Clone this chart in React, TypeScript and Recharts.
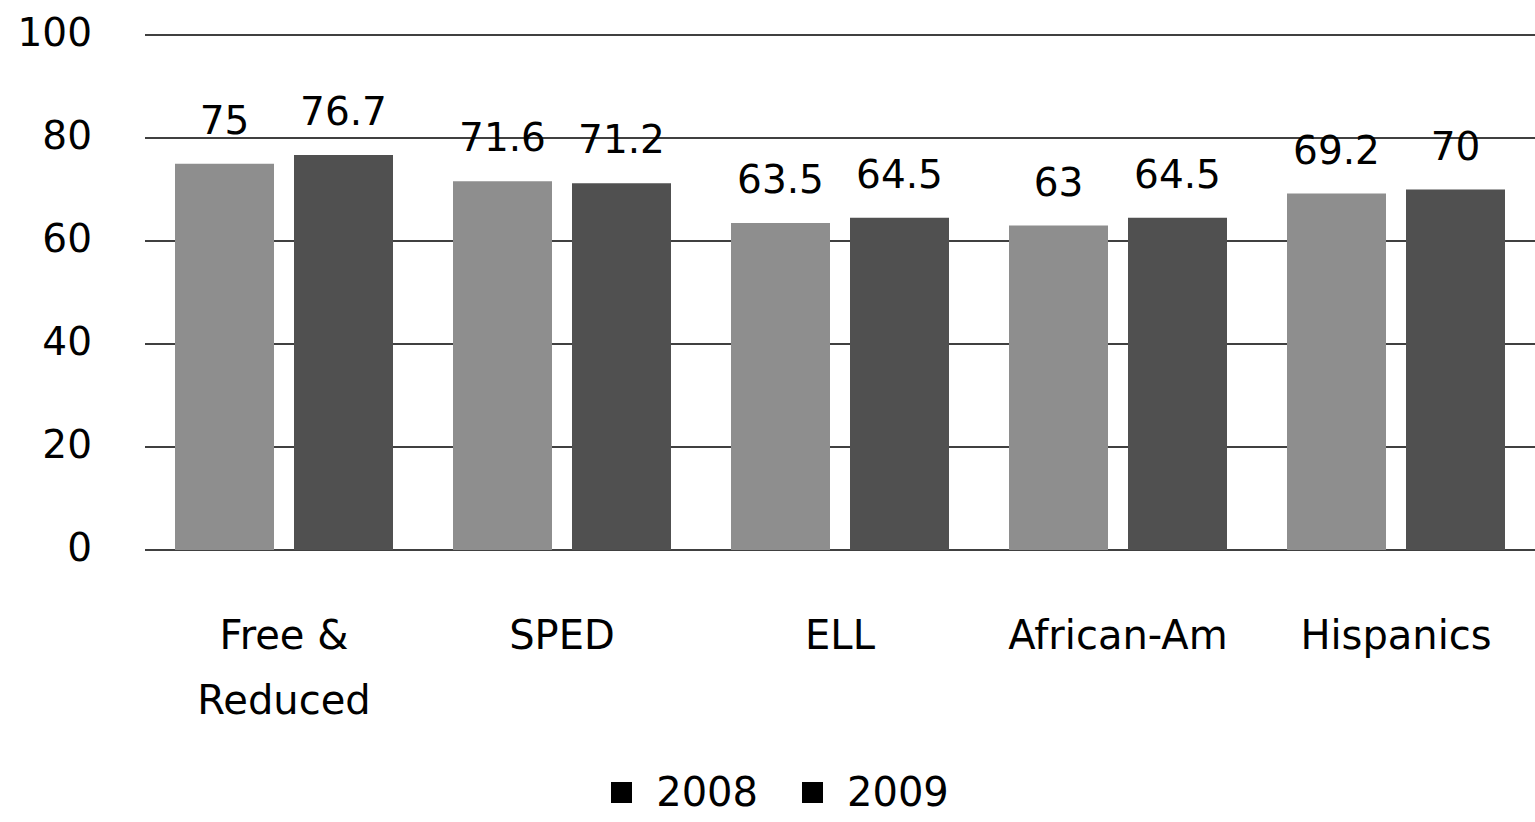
import { Bar, BarChart, CartesianGrid, LabelList, Legend, XAxis, YAxis } from "recharts";

const categories = ["Free &\nReduced", "SPED", "ELL", "African-Am", "Hispanics"];
const values2008 = [75, 71.6, 63.5, 63, 69.2];
const values2009 = [76.7, 71.2, 64.5, 64.5, 70];
const yTicks = [0, 20, 40, 60, 80, 100];
const seriesNames = ["2008", "2009"];

const FONT = "'DejaVu Sans', Verdana, sans-serif";

const data = categories.map((name, i) => ({
  name,
  y2008: values2008[i],
  y2009: values2009[i],
}));

function CategoryTick(props: any) {
  const { x, y, payload } = props;
  const lines = String(payload.value).split("\n");
  return (
    <g>
      {lines.map((line, i) => (
        <text
          key={i}
          x={x}
          y={y + 99 + i * 65}
          textAnchor="middle"
          fontSize={40}
          fontFamily={FONT}
          fill="#000"
        >
          {line}
        </text>
      ))}
    </g>
  );
}

function LegendBox() {
  return (
    <div
      style={{
        display: "flex",
        justifyContent: "center",
        alignItems: "center",
        gap: 44,
        fontFamily: FONT,
        fontSize: 40,
        color: "#000",
        height: 60,
        paddingLeft: 25,
      }}
    >
      {seriesNames.map((s) => (
        <span key={s} style={{ display: "flex", alignItems: "center" }}>
          <span style={{ width: 21, height: 21, background: "#000", marginRight: 24, display: "inline-block" }} />
          {s}
        </span>
      ))}
    </div>
  );
}

export default function App() {
  return (
    <div style={{ position: "absolute", left: 0, top: 0, width: 1535, height: 822, background: "#fff" }}>
      <BarChart
        width={1535}
        height={822}
        data={data}
        margin={{ top: 35, right: 0, left: 0, bottom: 0 }}
        barCategoryGap={30}
        barGap={20}
      >
        <CartesianGrid vertical={false} stroke="#000" strokeWidth={1.5} />
        <XAxis
          dataKey="name"
          axisLine={false}
          tickLine={false}
          tickSize={0}
          tickMargin={0}
          height={212}
          interval={0}
          tick={<CategoryTick />}
        />
        <YAxis
          domain={[0, 100]}
          ticks={yTicks}
          width={145}
          axisLine={false}
          tickLine={false}
          tickSize={0}
          tickMargin={53}
          tick={{ fontSize: 39, fontFamily: FONT, fill: "#000", dy: -3 }}
        />
        <Legend verticalAlign="bottom" height={60} content={<LegendBox />} />
        <Bar dataKey="y2008" name="2008" fill="#8e8e8e" isAnimationActive={false}>
          <LabelList dataKey="y2008" position="top" offset={30} fontSize={39} fontFamily={FONT} fill="#000" />
        </Bar>
        <Bar dataKey="y2009" name="2009" fill="#505050" isAnimationActive={false}>
          <LabelList dataKey="y2009" position="top" offset={30} fontSize={39} fontFamily={FONT} fill="#000" />
        </Bar>
      </BarChart>
    </div>
  );
}
